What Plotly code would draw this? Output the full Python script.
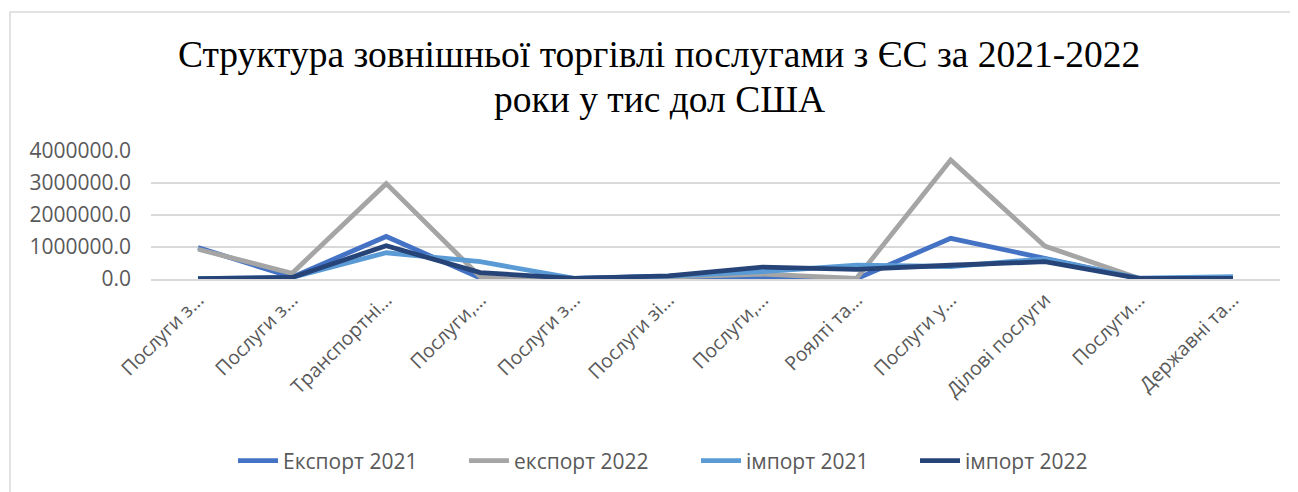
import plotly.graph_objects as go

categories = ["Послуги з…", "Послуги з…", "Транспортні…", "Послуги,…", "Послуги з…",
              "Послуги зі…", "Послуги,…", "Роялті та…", "Послуги у…", "Ділові послуги",
              "Послуги…", "Державні та…"]
export_2021 = [980000, 60000, 1330000, 30000, 15000, 80000, 40000, 10000, 1270000, 650000, 20000, 20000]
export_2022 = [930000, 180000, 2980000, 70000, 10000, 60000, 150000, 20000, 3720000, 1030000, 20000, 20000]
import_2021 = [10000, 50000, 820000, 540000, 20000, 90000, 230000, 430000, 390000, 630000, 30000, 70000]
import_2022 = [10000, 50000, 1040000, 200000, 20000, 100000, 370000, 300000, 430000, 540000, 20000, 20000]
series_names = ["Експорт 2021", "експорт 2022", "імпорт 2021", "імпорт 2022"]
colors = ["#4472C4", "#A5A5A5", "#5B9BD5", "#264478"]
legend_widths = [176, 177, 164, 170]
y_ticks = [0, 1000000, 2000000, 3000000, 4000000]
title_lines = ["Структура зовнішньої торгівлі послугами з ЄС за 2021-2022", "роки у тис дол США"]

x = list(range(len(categories)))
fig = go.Figure()
for name, vals, c, lw in zip(series_names, [export_2021, export_2022, import_2021, import_2022],
                             colors, legend_widths):
    fig.add_trace(go.Scatter(x=x, y=vals, mode="lines", name=name, legendwidth=lw,
                             line=dict(color=c, width=4.8)))

OFF = 8  # page body margin
W, H = 1298 - OFF, 492 - OFF
L, T = 151 - OFF, 151 - OFF
R = W - (1280 - OFF)
B = H - (279 - OFF)
pw, ph = W - L - R, H - T - B

def px2x(p):
    return (p - OFF - L) / pw

def py2y(p):
    return (H - B - (p - OFF)) / ph

fig.update_layout(
    width=W, height=H,
    margin=dict(l=L, r=R, t=T, b=B, autoexpand=False),
    paper_bgcolor="white", plot_bgcolor="white",
    font=dict(family="Open Sans", color="#595959", size=21),
    showlegend=True,
    legend=dict(orientation="h", x=px2x(233), xanchor="left", y=py2y(461), yanchor="middle",
                font=dict(family="Open Sans", size=21, color="#595959"),
                itemwidth=40, traceorder="normal"),
    xaxis=dict(range=[-0.5, len(categories) - 0.5], tickmode="array", tickvals=x,
               ticktext=categories, tickangle=-45, showgrid=False, zeroline=False,
               showline=True, linecolor="#D9D9D9", linewidth=1.5, ticks="",
               tickfont=dict(family="Open Sans", size=19.5, color="#595959")),
    yaxis=dict(range=[0, 4000000], tickmode="array", tickvals=y_ticks, tickformat=".1f",
               showgrid=True, gridcolor="#D9D9D9", gridwidth=1.5, zeroline=False,
               showline=False, ticks="", ticklabelstandoff=19,
               tickfont=dict(family="Open Sans", size=21, color="#595959")),
    annotations=[
        dict(text=title_lines[0], xref="paper", yref="paper", x=px2x(659), y=py2y(54),
             xanchor="center", yanchor="middle", showarrow=False,
             font=dict(family="Liberation Serif", size=37.5, color="#000000")),
        dict(text=title_lines[1], xref="paper", yref="paper", x=px2x(659), y=py2y(99),
             xanchor="center", yanchor="middle", showarrow=False,
             font=dict(family="Liberation Serif", size=37.5, color="#000000")),
    ],
    shapes=[dict(type="rect", xref="paper", yref="paper",
                 x0=px2x(10), x1=px2x(1320), y0=py2y(520), y1=py2y(12),
                 line=dict(color="#D9D9D9", width=1.5), fillcolor="rgba(0,0,0,0)", layer="below")],
)

fig.write_html("out.html")
